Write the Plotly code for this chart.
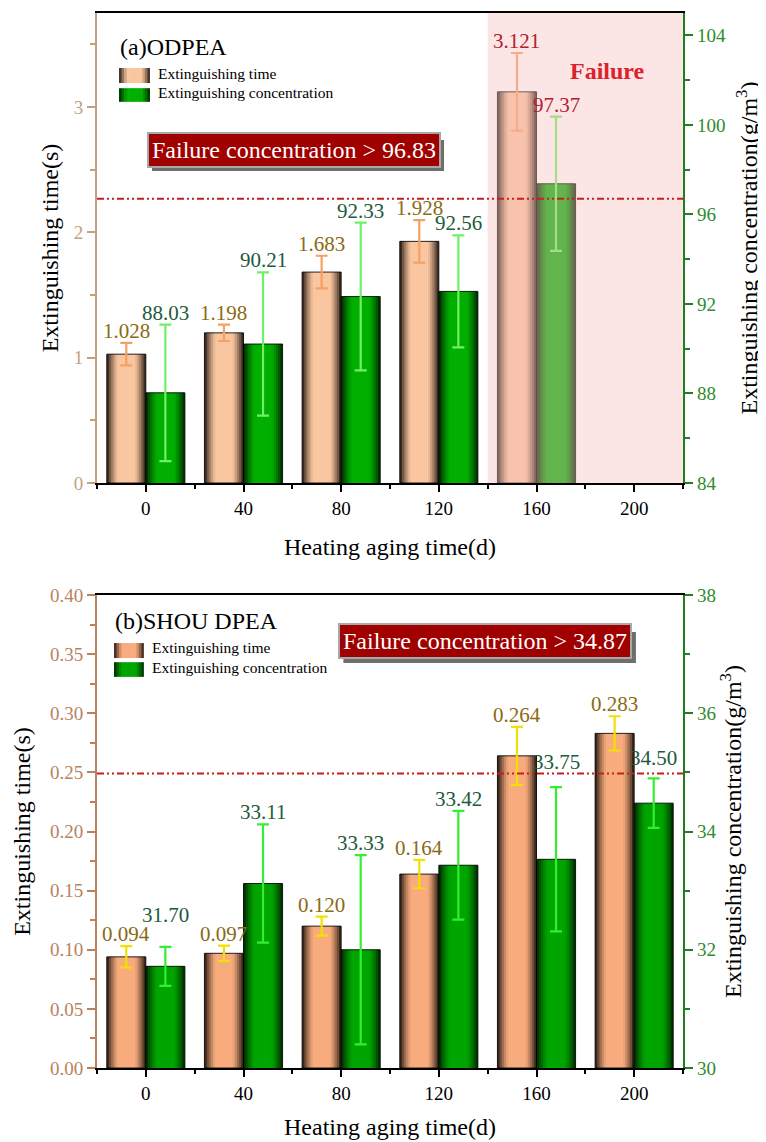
import math
import plotly.graph_objects as go

# ---------------- data ----------------
categories = ["0", "40", "80", "120", "160", "200"]

# (a) ODPEA
time_a = [1.028, 1.198, 1.683, 1.928, 3.121, None]
time_err_a = [0.09, 0.065, 0.13, 0.17, 0.31, None]
time_lbl_a = ["1.028", "1.198", "1.683", "1.928", "3.121", ""]
conc_a = [88.03, 90.21, 92.33, 92.56, 97.37, None]
conc_err_a = [3.05, 3.2, 3.3, 2.5, 3.0, None]
conc_lbl_a = ["88.03", "90.21", "92.33", "92.56", "97.37", ""]
fail_line_a = 96.7
fail_text_a = "Failure concentration > 96.83"

# (b) SHOU DPEA
time_b = [0.094, 0.097, 0.120, 0.164, 0.264, 0.283]
time_err_b = [0.009, 0.0065, 0.008, 0.012, 0.0245, 0.0145]
time_lbl_b = ["0.094", "0.097", "0.120", "0.164", "0.264", "0.283"]
conc_b = [31.72, 33.12, 32.0, 33.43, 33.53, 34.48]
conc_err_b = [0.33, 1.0, 1.6, 0.92, 1.22, 0.42]
conc_lbl_b = ["31.70", "33.11", "33.33", "33.42", "33.75", "34.50"]
fail_line_b = 34.98
fail_text_b = "Failure concentration > 34.87"

# ---------------- style ----------------
FONT = "Liberation Serif, Times New Roman, serif"
TAN_A = "#c4a17e"
TAN_B = "#b9825f"
GREEN_AX = "#1f7f1f"
TIME_LBL = "#8b6a14"
CONC_LBL = "#1e5a3c"
FAIL_LBL = "#b3202c"
idx = list(range(len(categories)))
W = 0.4
N = 18

fig = go.Figure()


def shade(dark, light, t):
    f = min(1.0, 1.25 * math.sin(math.pi * t) ** 0.85)
    return "rgb(%d,%d,%d)" % tuple(int(d + (l - d) * f) for d, l in zip(dark, light))


def gradient_bars(vals, base_off, dark, light, xa, ya):
    for k in range(N):
        off = base_off + k * W / N
        wid = min(W / N * 1.5, base_off + W - off)
        fig.add_trace(go.Bar(x=idx, y=vals, offset=off, width=wid,
                             marker=dict(color=shade(dark, light, (k + 0.5) / N), line=dict(width=0)),
                             xaxis=xa, yaxis=ya, showlegend=False, hoverinfo="skip"))
    fig.add_trace(go.Bar(x=idx, y=vals, offset=base_off, width=W,
                         marker=dict(color="rgba(0,0,0,0)", line=dict(color="rgba(0,0,0,0.85)", width=1)),
                         xaxis=xa, yaxis=ya, showlegend=False, hoverinfo="skip"))


def err_trace(vals, errs, dx, color, xa, ya, cap):
    fig.add_trace(go.Scatter(x=[i + dx for i in idx], y=vals, mode="markers",
                             marker=dict(size=1, opacity=0),
                             error_y=dict(type="data", array=errs, visible=True, color=color,
                                          thickness=2.2, width=cap),
                             xaxis=xa, yaxis=ya, showlegend=False, hoverinfo="skip"))


# panel (a)
gradient_bars(time_a, -W, (25, 15, 10), (250, 198, 160), "x", "y")
gradient_bars(conc_a, 0.0, (0, 30, 0), (0, 175, 0), "x", "y2")
err_trace(time_a, time_err_a, -W / 2, "#f5a064", "x", "y", 6)
err_trace(conc_a, conc_err_a, W / 2, "#70f066", "x", "y2", 6)

# panel (b)
gradient_bars(time_b, -W, (25, 15, 10), (248, 172, 125), "x2", "y3")
gradient_bars(conc_b, 0.0, (0, 30, 0), (0, 165, 0), "x2", "y4")
err_trace(time_b, time_err_b, -W / 2, "#f2e000", "x2", "y3", 6)
err_trace(conc_b, conc_err_b, W / 2, "#33ee33", "x2", "y4", 6)

annotations = []
shapes = []

# value labels
shift_time_b = [0, 0, 0, 0, 0, 0]
shift_conc_b = [20, 0, 0, 0, 13, 8]
LBL = 21
for i in idx:
    if time_a[i] is not None:
        col_t = FAIL_LBL if i == 4 else TIME_LBL
        col_c = FAIL_LBL if i == 4 else CONC_LBL
        annotations.append(dict(x=i - W / 2, y=time_a[i] + time_err_a[i], xref="x", yref="y",
                                text=time_lbl_a[i], showarrow=False, xanchor="center", yanchor="bottom",
                                yshift=-2, font=dict(family=FONT, size=LBL, color=col_t)))
        annotations.append(dict(x=i + W / 2, y=conc_a[i] + conc_err_a[i], xref="x", yref="y2",
                                text=conc_lbl_a[i], showarrow=False, xanchor="center", yanchor="bottom",
                                yshift=-2, font=dict(family=FONT, size=LBL, color=col_c)))
    annotations.append(dict(x=i - W / 2, y=time_b[i] + time_err_b[i], xref="x2", yref="y3",
                            text=time_lbl_b[i], showarrow=False, xanchor="center", yanchor="bottom",
                            yshift=shift_time_b[i] - 2, font=dict(family=FONT, size=LBL, color=TIME_LBL)))
    annotations.append(dict(x=i + W / 2, y=conc_b[i] + conc_err_b[i], xref="x2", yref="y4",
                            text=conc_lbl_b[i], showarrow=False, xanchor="center", yanchor="bottom",
                            yshift=shift_conc_b[i] - 2, font=dict(family=FONT, size=LBL, color=CONC_LBL)))

# failure region (a)
shapes.append(dict(type="rect", xref="x", yref="y domain", x0=3.5, x1=5.5, y0=0, y1=1,
                   fillcolor="rgba(245,190,190,0.4)", line=dict(width=0), layer="above"))
# failure lines
dash = "7px,3px,2px,3px,2px,3px"
shapes.append(dict(type="line", xref="x domain", yref="y2", x0=0, x1=1, y0=fail_line_a, y1=fail_line_a,
                   line=dict(color="#c81e1e", width=2, dash=dash), layer="above"))
shapes.append(dict(type="line", xref="x2 domain", yref="y4", x0=0, x1=1, y0=fail_line_b, y1=fail_line_b,
                   line=dict(color="#c81e1e", width=2, dash=dash), layer="above"))

annotations.append(dict(x=0.872, y=0.8457, xref="x domain", yref="y domain", text="<b>Failure</b>",
                        showarrow=False, xanchor="center", yanchor="bottom",
                        font=dict(family=FONT, size=24, color="#e0202a")))

# failure concentration boxes (drop shadow drawn as a shape behind the box)
for (xr, yr, cx, by, txt, sh) in [("x domain", "y domain", 0.337, 0.670, fail_text_a,
                                   (0.0939, 0.5922, 0.6638, 0.7298)),
                                  ("x2 domain", "y3 domain", 0.6615, 0.8647, fail_text_b,
                                   (0.4205, 0.9197, 0.8562, 0.9218))]:
    shapes.append(dict(type="rect", xref=xr, yref=yr, x0=sh[0], x1=sh[1], y0=sh[2], y1=sh[3],
                       fillcolor="#6e6e6e", line=dict(width=0), layer="above"))
    annotations.append(dict(x=cx, y=by, xref=xr, yref=yr, text=txt, showarrow=False,
                            xanchor="center", yanchor="bottom",
                            font=dict(family=FONT, size=24, color="white"),
                            bgcolor="#a00000", bordercolor="#a8a8a8", borderwidth=2, borderpad=3))


# custom legends
def legend(xr, yr, title, tx, ty, sx0, sx1, rows, lx):
    annotations.append(dict(x=tx, y=ty, xref=xr, yref=yr, text=title, showarrow=False, xanchor="left",
                            yanchor="bottom", font=dict(family=FONT, size=24, color="black")))
    for (y0, y1, dark, light, label, ly) in rows:
        n = 12
        for k in range(n):
            a = sx0 + (sx1 - sx0) * k / n
            b = sx0 + (sx1 - sx0) * (k + 1.2) / n
            shapes.append(dict(type="rect", xref=xr, yref=yr, x0=a, x1=min(b, sx1), y0=y0, y1=y1,
                               fillcolor=shade(dark, light, (k + 0.5) / n), line=dict(width=0), layer="above"))
        annotations.append(dict(x=lx, y=ly, xref=xr, yref=yr, text=label, showarrow=False,
                                xanchor="left", yanchor="bottom",
                                font=dict(family=FONT, size=15.5, color="black")))


legend("x domain", "y domain", "(a)ODPEA", 0.036, 0.8947, 0.0375, 0.0904,
       [(0.851, 0.883, (25, 15, 10), (250, 198, 160), "Extinguishing time", 0.850),
        (0.811, 0.840, (0, 30, 0), (0, 175, 0), "Extinguishing concentration", 0.8085)], 0.1)
legend("x2 domain", "y3 domain", "(b)SHOU DPEA", 0.028, 0.9144, 0.029, 0.080,
       [(0.8668, 0.8985, (25, 15, 10), (248, 172, 125), "Extinguishing time", 0.8668),
        (0.827, 0.858, (0, 30, 0), (0, 165, 0), "Extinguishing concentration", 0.8245)], 0.091)

# ---------------- axes ----------------
TOP = [0.5545, 1.0]
BOT = [0.0, 0.4483]
half = [i + 0.5 for i in range(-1, len(categories))]
TITLE = 24


def xaxis(anchor, standoff):
    return dict(domain=[0, 1], anchor=anchor, range=[-0.5, 5.5], tickmode="array", tickvals=idx,
                ticktext=categories, ticks="outside", ticklen=7, tickwidth=2, tickcolor="black",
                showline=True, linecolor="black", linewidth=2, mirror=True, showgrid=False, zeroline=False,
                automargin=False,
                minor=dict(tickmode="array", tickvals=half, ticks="outside", ticklen=4, tickwidth=2,
                           tickcolor="black"),
                tickfont=dict(family=FONT, size=19, color="black"),
                title=dict(text="Heating aging time(d)", font=dict(family=FONT, size=TITLE, color="black"),
                           standoff=standoff))


def yleft(dom, rng, dtick, mdtick, col, fmt, anchor, standoff):
    return dict(domain=dom, anchor=anchor, range=rng, tick0=0, dtick=dtick, ticks="outside", ticklen=8,
                tickwidth=1.5, tickcolor=col, showline=True, linecolor=col, linewidth=1.8, showgrid=False,
                zeroline=False, tickformat=fmt, automargin=False,
                minor=dict(ticks="outside", dtick=mdtick, tick0=0, ticklen=5, tickwidth=1.5, tickcolor=col),
                tickfont=dict(family=FONT, size=19, color=col),
                title=dict(text="Extinguishing time(s)", font=dict(family=FONT, size=TITLE, color="black"),
                           standoff=standoff))


def yright(overl, rng, dtick, mdtick, anchor, standoff):
    return dict(overlaying=overl, side="right", anchor=anchor, range=rng, tick0=rng[0], dtick=dtick,
                ticks="outside", ticklen=8, tickwidth=2, tickcolor=GREEN_AX, showline=True,
                linecolor=GREEN_AX, linewidth=2.2, showgrid=False, zeroline=False, automargin=False,
                minor=dict(ticks="outside", dtick=mdtick, tick0=rng[0], ticklen=5, tickwidth=2,
                           tickcolor=GREEN_AX),
                tickfont=dict(family=FONT, size=19, color="#2e8b2e"),
                title=dict(text="Extinguishing concentration(g/m<sup>3</sup>)",
                           font=dict(family=FONT, size=TITLE, color="black"), standoff=standoff))


fig.update_layout(
    width=758, height=1134,
    margin=dict(l=89, r=83, t=5, b=74, autoexpand=False),
    paper_bgcolor="white", plot_bgcolor="white",
    barmode="overlay", showlegend=False,
    font=dict(family=FONT),
    xaxis=xaxis("y", 20),
    xaxis2=xaxis("y3", 15),
    yaxis=yleft(TOP, [0, 3.75], 1, 0.5, TAN_A, "", "x", 8),
    yaxis2=yright("y", [84, 105], 4, 2, "x", 15),
    yaxis3=yleft(BOT, [0, 0.40], 0.05, 0.025, TAN_B, ".2f", "x2", 13),
    yaxis4=yright("y3", [30, 38], 2, 1, "x2", 4),
    annotations=annotations,
    shapes=shapes,
)

fig.write_html("out.html")
